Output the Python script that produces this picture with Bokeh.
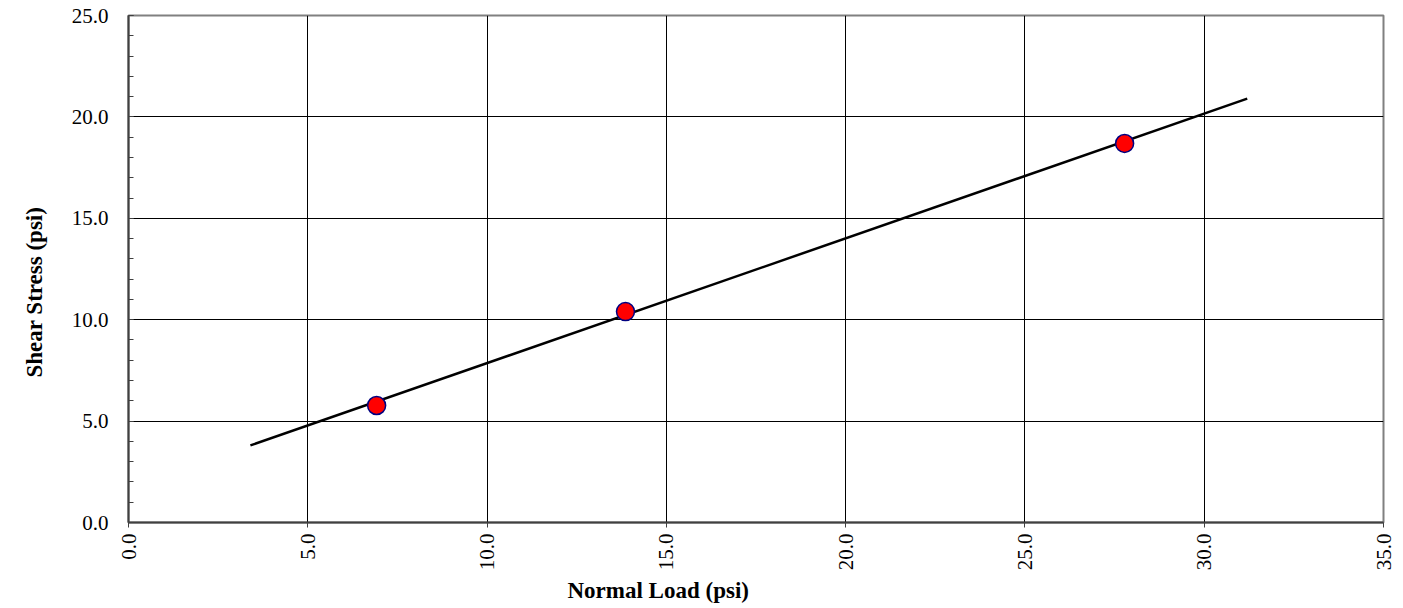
import math
from bokeh.plotting import figure
from bokeh.models import Range1d, SingleIntervalTicker, NumeralTickFormatter, Title
from bokeh.embed import file_html
from bokeh.resources import INLINE

# data
normal_load = [6.92, 13.86, 27.78]
shear_stress = [5.77, 10.40, 18.69]
fit_x = [3.4, 31.2]
fit_y = [3.8, 20.9]
x_title = "Normal Load (psi)"
y_title = "Shear Stress (psi)"

p = figure(width=1403, height=608, output_backend="svg", toolbar_location=None,
           x_range=Range1d(0, 35), y_range=Range1d(0, 25),
           min_border_left=128, min_border_right=20, min_border_top=15, min_border_bottom=86)
p.background_fill_color = "white"
p.border_fill_color = "white"
p.outline_line_color = "#808080"
p.outline_line_width = 2

p.xaxis.ticker = SingleIntervalTicker(interval=5, num_minor_ticks=0)
p.yaxis.ticker = SingleIntervalTicker(interval=5, num_minor_ticks=5)
p.xgrid.ticker = SingleIntervalTicker(interval=5)
p.ygrid.ticker = SingleIntervalTicker(interval=5)
for g in (p.xgrid, p.ygrid):
    g.grid_line_color = "black"
    g.grid_line_width = 1
    g.grid_line_alpha = 1.0

fmt = NumeralTickFormatter(format="0.0")
for ax in (p.xaxis[0], p.yaxis[0]):
    ax.formatter = fmt
    ax.axis_line_color = "#404040"
    ax.axis_line_width = 2
    ax.major_tick_line_color = "#404040"
    ax.minor_tick_line_color = "#404040"
    ax.major_label_text_font = "Liberation Serif"
    ax.major_label_text_font_size = "21px"
    ax.major_label_text_color = "black"

xa = p.xaxis[0]
xa.major_tick_out = 5
xa.major_tick_in = 0
xa.minor_tick_out = 0
xa.minor_tick_in = 0
xa.major_label_orientation = math.pi / 2
xa.major_label_standoff = 6

ya = p.yaxis[0]
ya.major_tick_out = 0
ya.major_tick_in = 5
ya.minor_tick_in = 5
ya.minor_tick_out = 0
ya.major_label_standoff = 20

p.line(fit_x, fit_y, line_color="black", line_width=2.5)
p.scatter(normal_load, shear_stress, size=18, fill_color="red", line_color="#000080", line_width=1.5)

p.add_layout(Title(text=x_title, align="left", offset=439, standoff=4,
                   text_font="Liberation Serif", text_font_style="bold", text_font_size="23px",
                   text_color="black"), "below")
p.add_layout(Title(text=y_title, align="left", offset=145, standoff=40, vertical_align="top",
                   text_font="Liberation Serif", text_font_style="bold", text_font_size="23px",
                   text_color="black"), "left")

open("out.html", "w").write(file_html(p, INLINE))
